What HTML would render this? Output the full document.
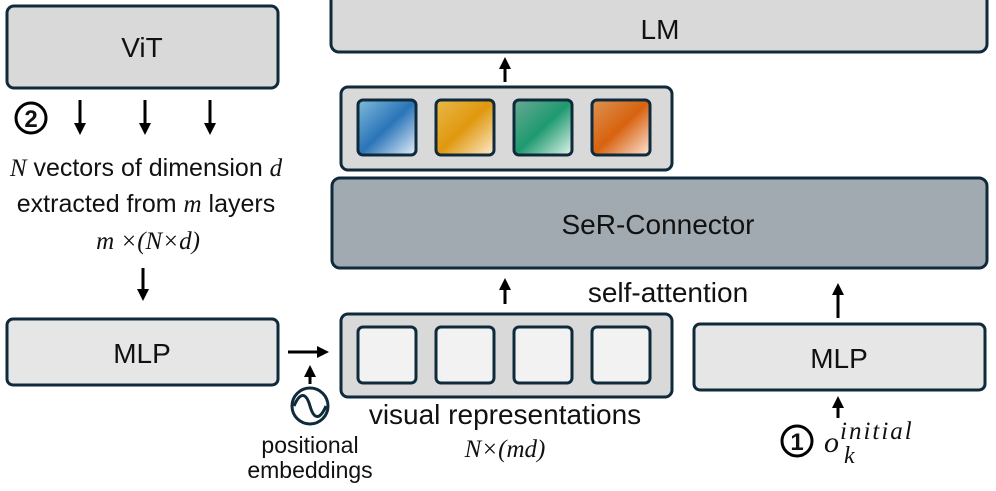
<!DOCTYPE html>
<html><head><meta charset="utf-8"><style>
html,body{margin:0;padding:0;background:#fff;}
svg{display:block;}
text{font-family:"Liberation Sans",sans-serif;fill:#111;}
.m{font-family:"Liberation Serif",serif;font-style:italic;}
</style></head><body>
<svg width="996" height="491" viewBox="0 0 996 491" xmlns="http://www.w3.org/2000/svg">
<defs>
<marker id="ah" markerWidth="12" markerHeight="12" refX="3" refY="6" orient="auto" markerUnits="userSpaceOnUse"><path d="M0,0 L12,6 L0,12 z" fill="#000"/></marker>
<linearGradient id="gb" x1="0" y1="0" x2="1" y2="1"><stop offset="0" stop-color="#7fbadb"/><stop offset="0.5" stop-color="#2a74b8"/><stop offset="1" stop-color="#e6f0fa"/></linearGradient>
<linearGradient id="go" x1="0" y1="0" x2="1" y2="1"><stop offset="0" stop-color="#e8b84a"/><stop offset="0.5" stop-color="#e0980e"/><stop offset="1" stop-color="#fcecd0"/></linearGradient>
<linearGradient id="gg" x1="0" y1="0" x2="1" y2="1"><stop offset="0" stop-color="#6aa894"/><stop offset="0.5" stop-color="#1e9a70"/><stop offset="1" stop-color="#e4f5ec"/></linearGradient>
<linearGradient id="gr" x1="0" y1="0" x2="1" y2="1"><stop offset="0" stop-color="#dc9356"/><stop offset="0.5" stop-color="#d8620e"/><stop offset="1" stop-color="#fbe6da"/></linearGradient>
</defs>
<g stroke="#0f2a3a" stroke-width="3">
<rect x="7" y="6" width="271" height="82" rx="7" fill="#d9d9d9"/>
<rect x="331" y="-20" width="656" height="72" rx="8" fill="#d9d9d9"/>
<rect x="341" y="87" width="331" height="83" rx="7" fill="#d9d9d9"/>
<rect x="358" y="100" width="58" height="55" rx="5" fill="url(#gb)"/>
<rect x="436" y="100" width="58" height="55" rx="5" fill="url(#go)"/>
<rect x="514" y="100" width="58" height="55" rx="5" fill="url(#gg)"/>
<rect x="592" y="100" width="58" height="55" rx="5" fill="url(#gr)"/>
<rect x="332" y="178" width="655" height="90" rx="8" fill="#a0aab0"/>
<rect x="7" y="319" width="271" height="66" rx="6" fill="#e6e6e6"/>
<rect x="341" y="314" width="331" height="83" rx="7" fill="#d9d9d9"/>
<rect x="358" y="327" width="58" height="56" rx="5" fill="#f2f2f2"/>
<rect x="436" y="327" width="58" height="56" rx="5" fill="#f2f2f2"/>
<rect x="514" y="327" width="58" height="56" rx="5" fill="#f2f2f2"/>
<rect x="592" y="327" width="58" height="56" rx="5" fill="#f2f2f2"/>
<rect x="694" y="324" width="291" height="66" rx="6" fill="#e6e6e6"/>
<circle cx="310" cy="406" r="18" fill="#fff"/>
</g>
<path d="M294,406 C300,392 306,392 310,406 C314,420 320,420 326,406" fill="none" stroke="#0f2a3a" stroke-width="3"/>
<g stroke="#000" stroke-width="3" marker-end="url(#ah)">
<line x1="505" y1="82" x2="505" y2="66"/>
<line x1="80" y1="100" x2="80" y2="126"/>
<line x1="145" y1="100" x2="145" y2="126"/>
<line x1="210" y1="100" x2="210" y2="126"/>
<line x1="143" y1="268" x2="143" y2="292"/>
<line x1="505" y1="304" x2="505" y2="287"/>
<line x1="838" y1="318" x2="838" y2="292"/>
<line x1="838" y1="418" x2="838" y2="405"/>
<line x1="288" y1="352" x2="320" y2="352"/>
<line x1="310" y1="384" x2="310" y2="374"/>
</g>
<g text-anchor="middle" font-size="28">
<text x="142" y="57">ViT</text>
<text x="660" y="39">LM</text>
<text x="658" y="234">SeR-Connector</text>
<text x="142" y="363">MLP</text>
<text x="839" y="368">MLP</text>
</g>
<circle cx="31" cy="118" r="15" fill="none" stroke="#000" stroke-width="3"/>
<text x="31" y="127" text-anchor="middle" font-size="24" font-weight="bold">2</text>
<text x="146" y="176" text-anchor="middle" font-size="25"><tspan class="m">N</tspan> vectors of dimension <tspan class="m">d</tspan></text>
<text x="146" y="212" text-anchor="middle" font-size="25">extracted from <tspan class="m">m</tspan> layers</text>
<text x="148" y="249" text-anchor="middle" font-size="25" class="m">m ×(N×d)</text>
<text x="668" y="302" text-anchor="middle" font-size="28">self-attention</text>
<text x="505" y="424" text-anchor="middle" font-size="28">visual representations</text>
<text x="505" y="457" text-anchor="middle" font-size="25" class="m">N×(md)</text>
<text x="310" y="453" text-anchor="middle" font-size="23">positional</text>
<text x="310" y="478" text-anchor="middle" font-size="23">embeddings</text>
<circle cx="797" cy="441" r="15" fill="none" stroke="#000" stroke-width="3"/>
<text x="797" y="450" text-anchor="middle" font-size="24" font-weight="bold">1</text>
<text x="824" y="452" font-size="30" class="m">o</text>
<text x="840" y="439" font-size="25" class="m" letter-spacing="2">initial</text>
<text x="844" y="463" font-size="24" class="m">k</text>
</svg>
</body></html>
